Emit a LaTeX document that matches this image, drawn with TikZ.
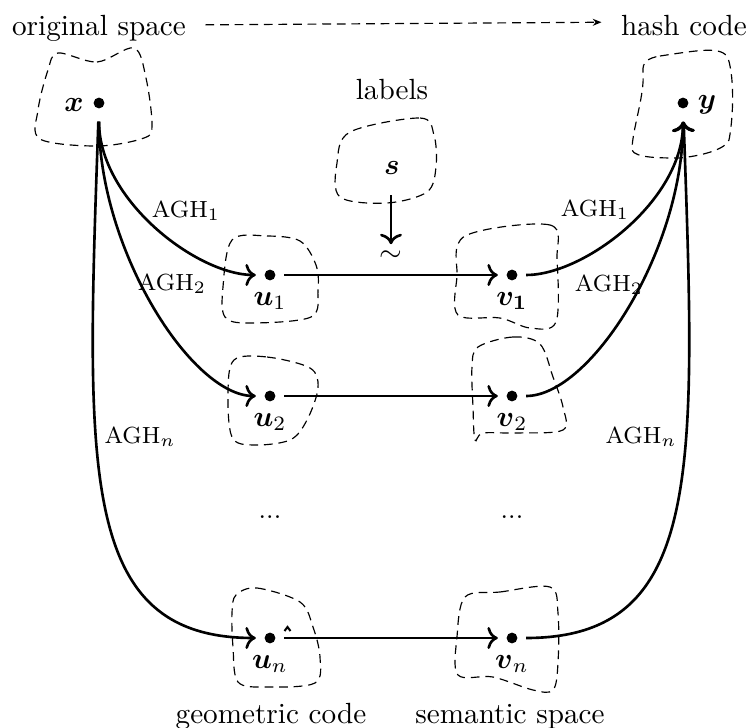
\documentclass[tikz,border=0pt]{standalone}
\usepackage{amsmath}
\usetikzlibrary{arrows.meta}
\begin{document}
\begin{tikzpicture}[x=0.3425pt,y=-0.3425pt,
  dot/.style={circle,fill=black,inner sep=0pt,minimum size=3.7pt,outer sep=3pt},
  enddot/.style={dot,outer sep=4.5pt},
  conn/.style={line width=0.9pt,->},
  blob/.style={densely dashed,line width=0.4pt},
  agh/.style={font=\footnotesize,inner sep=0pt},
  lbl/.style={inner sep=0pt,anchor=base},
  title/.style={anchor=base,inner sep=0pt},
]
\useasboundingbox (0,0) rectangle (751,728);

% region outlines
\draw[blob] plot[smooth cycle,tension=0.55] coordinates {(58,53) (97,62) (134,48) (146,78) (152,125) (144,138) (98,146) (40,139) (38,110) (48,70)};
\draw[blob] (660,56) .. controls (700,50) and (722,46) .. (728,58)
  .. controls (735,80) and (733,120) .. (729,140)
  .. controls (725,150) and (700,156) .. (680,158)
  .. controls (660,158) and (635,158) .. (632,150)
  .. controls (632,130) and (645,95) .. (643,72)
  .. controls (642,62) and (648,58) .. (660,56) -- cycle;
\draw[blob] plot[smooth cycle,tension=0.55] coordinates {(350,132) (420,118) (434,135) (436,167) (427,192) (387,203) (340,197) (337,163)};
\draw[blob] plot[smooth cycle,tension=0.55] coordinates {(232,240) (267,236) (300,241) (316,265) (318,290) (311,317) (250,323) (225,317) (223,287)};
\draw[blob] plot[smooth cycle,tension=0.55] coordinates {(465,236) (550,225) (557,260) (556,322) (530,328) (500,318) (458,315) (457,277)};
\draw[blob] plot[smooth cycle,tension=0.55] coordinates {(234,360) (267,357) (310,368) (318,388) (307,420) (290,440) (253,445) (232,437) (228,393)};
\draw[blob] plot[smooth cycle,tension=0.55] coordinates {(478,347) (513,337) (540,344) (553,377) (563,407) (563,430) (517,433) (483,433) (475,440) (473,407) (472,367)};
\draw[blob] plot[smooth cycle,tension=0.55] coordinates {(236,595) (257,588) (300,602) (313,627) (320,657) (315,683) (267,687) (238,682) (233,647) (232,613)};
\draw[blob] plot[smooth cycle,tension=0.55] coordinates {(465,597) (500,592) (550,587) (558,613) (558,663) (553,690) (533,690) (493,677) (458,675) (457,637)};

% space titles
\node[title] (orig) at (99,35) {original space};
\node[title] (hash) at (684,35) {hash code};
\node[title] (lab) at (392,99) {labels};
\node[title] (geo) at (271,723) {geometric code};
\node[title] (sem) at (510,723) {semantic space};
\draw[densely dashed,-{Stealth[length=3pt,width=2.4pt]},shorten <=6.5pt,shorten >=6.5pt] ([yshift=1pt]orig.east) -- ([yshift=1pt]hash.west);

% points
\node[enddot] (x) at (99,103) {};
\node[enddot] (y) at (683,103) {};
\node[lbl] (xl) at (74,111) {$\boldsymbol{x}$};
\node[lbl] (yl) at (707,108) {$\boldsymbol{y}$};

\node[dot] (u1) at (270,275) {};
\node[dot] (v1) at (512,275) {};
\node[dot] (u2) at (270,396) {};
\node[dot] (v2) at (512,396) {};
\node[dot] (un) at (270,638) {};
\node[dot] (vn) at (512,638) {};
\node[lbl] (u1l) at (270,305) {$\boldsymbol{u}_1$};
\node[lbl] (v1l) at (512,305) {$\boldsymbol{v_1}$};
\node[lbl] (u2l) at (270,426) {$\boldsymbol{u}_2$};
\node[lbl] (v2l) at (512,426) {$\boldsymbol{v}_2$};
\node[lbl] (unl) at (270,668) {$\boldsymbol{u}_n$};
\node[lbl] (vnl) at (512,668) {$\boldsymbol{v}_n$};
\node[title,font=\small] (ud) at (270,518) {...};
\node[title,font=\small] (vd) at (512,518) {...};

% label supervision
\node (s) at (392,168) {$\boldsymbol{s}$};
\coordinate (sfoot) at (391,195);
\node[inner sep=2pt] (sim) at (391,256) {$\sim$};
\draw[conn] (sfoot) -- (sim);

% hashing functions
\draw[conn] (x) to[out=-90,in=180,out distance=27pt,in distance=20pt] (u1);
\draw[conn] (x) to[out=-90,in=180,out distance=44pt,in distance=22pt] (u2);
\draw[conn] (x) to[out=-92,in=180,out distance=119pt,in distance=61pt] (un);
\draw[conn] (u1) -- (v1);
\draw[conn] (u2) -- (v2);
\draw[conn] (un) -- (vn);
\draw[conn] (v1) to[out=0,in=-90,out distance=20pt,in distance=27pt] (y);
\draw[conn] (v2) to[out=0,in=-90,out distance=22pt,in distance=44pt] (y);
\draw[conn] (vn) to[out=0,in=-88,out distance=61pt,in distance=119pt] (y);
\draw[line width=0.7pt] (284.5,631) -- (287.5,627) -- (290.5,631);

\node[agh] (a1l) at (186,211) {AGH$_1$};
\node[agh] (a2l) at (172,284) {AGH$_2$};
\node[agh] (anl) at (140,437) {AGH$_n$};
\node[agh] (a1r) at (595,210) {AGH$_1$};
\node[agh] (a2r) at (609,285) {AGH$_2$};
\node[agh] (anr) at (641,437) {AGH$_n$};
\end{tikzpicture}
\end{document}
